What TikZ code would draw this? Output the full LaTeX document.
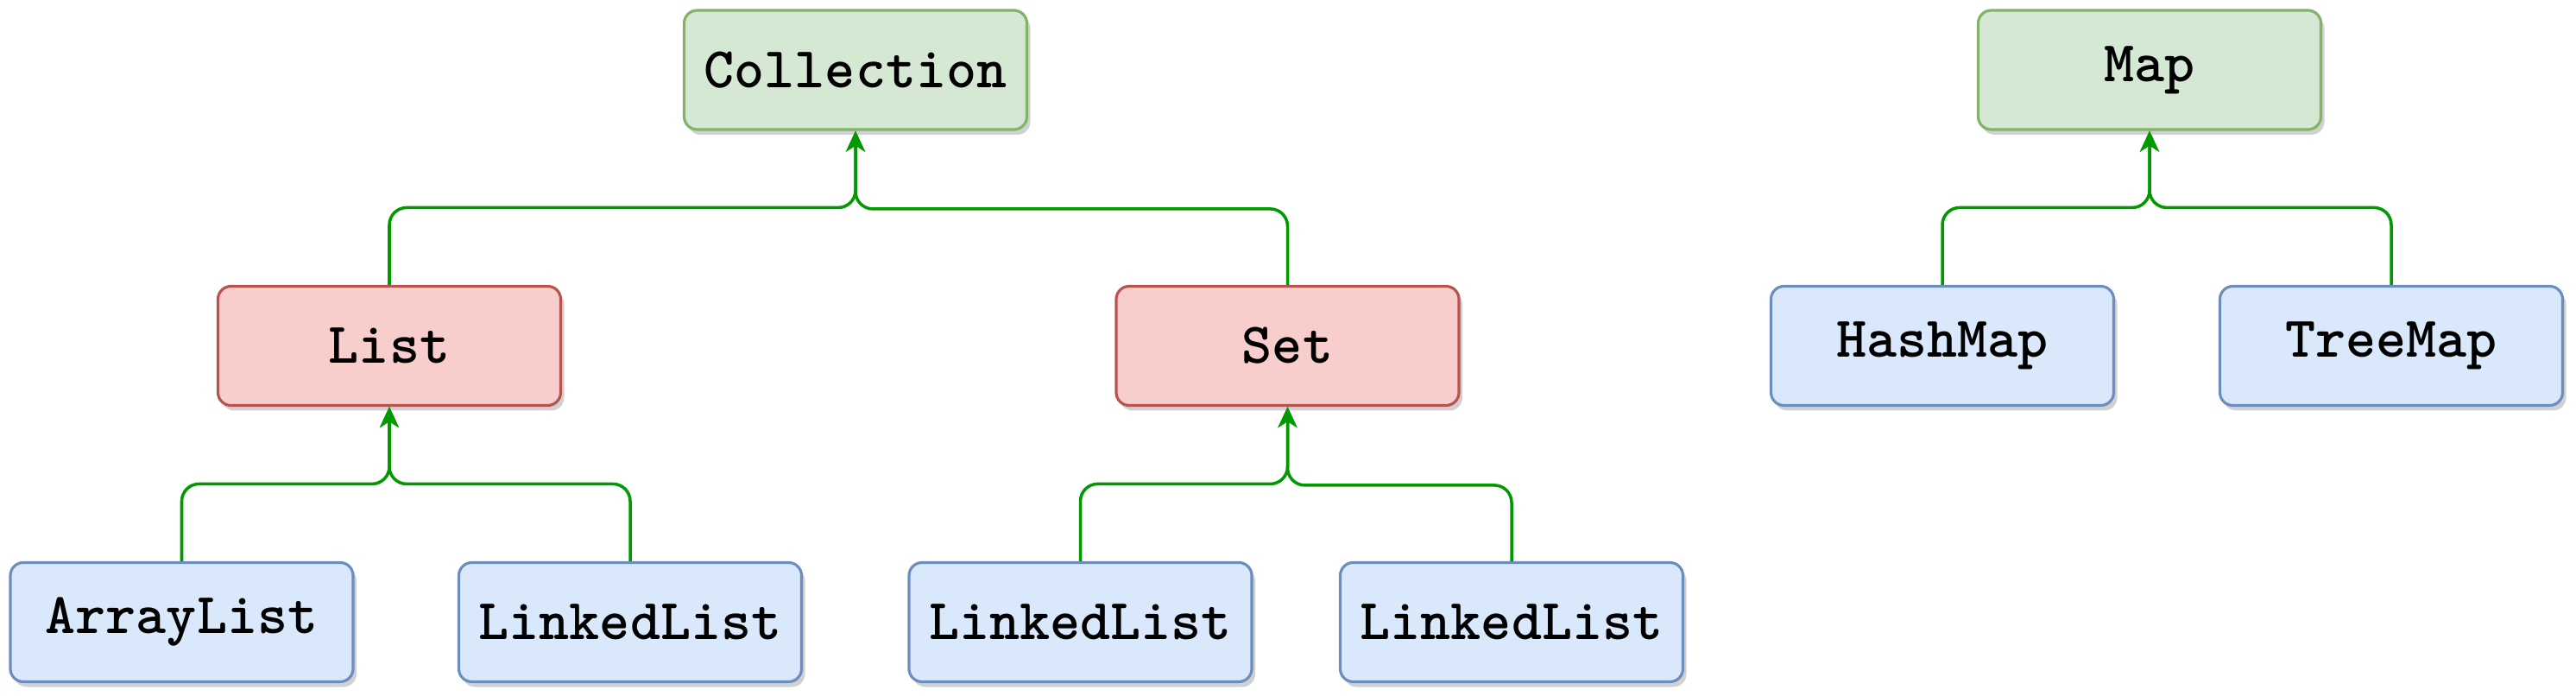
\documentclass[tikz,border=0pt]{standalone}
\usepackage{fontspec}
\usetikzlibrary{arrows.meta,shadows}
\definecolor{greenfill}{HTML}{D5E8D4}
\definecolor{greenline}{HTML}{82B366}
\definecolor{redfill}{HTML}{F8CECC}
\definecolor{redline}{HTML}{B85450}
\definecolor{bluefill}{HTML}{DAE8FC}
\definecolor{blueline}{HTML}{6C8EBF}
\definecolor{linkgreen}{HTML}{009900}
\tikzset{
  box/.style={draw, rounded corners=0.15cm, minimum width=3.97cm, minimum height=1.38cm,
    inner sep=0pt, line width=0.9pt, font=\ttfamily\bfseries\fontsize{19}{22}\selectfont,
    drop shadow={shadow xshift=0.04cm, shadow yshift=-0.06cm, fill=black, opacity=0.18}},
  top/.style={box, fill=greenfill, draw=greenline},
  mid/.style={box, fill=redfill, draw=redline},
  leaf/.style={box, fill=bluefill, draw=blueline},
  link/.style={draw, line width=1pt, color=linkgreen, rounded corners=0.2cm,
    -{Stealth[length=0.24cm, width=0.22cm, inset=0.07cm]}}
}
\begin{document}
\begin{tikzpicture}
\useasboundingbox (0,0) rectangle (29.84,-8.06);
\node[top] (1) at (9.91,-0.81) {Collection};
\node[mid] (2) at (4.51,-4.005) {List};
\node[mid] (3) at (14.915,-4.005) {Set};
\node[leaf] (4) at (2.105,-7.205) {ArrayList};
\node[leaf] (5) at (7.30,-7.205) {LinkedList};
\node[leaf] (6) at (12.515,-7.205) {LinkedList};
\node[leaf] (7) at (17.51,-7.205) {LinkedList};
\node[top] (8) at (24.90,-0.81) {Map};
\node[leaf] (9) at (22.50,-4.005) {HashMap};
\node[leaf] (10) at (27.70,-4.005) {TreeMap};
\path[link] (2.north) -- ++(0,0.895) -| (1.south);
\path[link] (3.north) -- ++(0,0.88) -| (1.south);
\path[link] (4.north) -- ++(0,0.895) -| (2.south);
\path[link] (5.north) -- ++(0,0.895) -| (2.south);
\path[link] (6.north) -- ++(0,0.895) -| (3.south);
\path[link] (7.north) -- ++(0,0.88) -| (3.south);
\path[link] (9.north) -- ++(0,0.895) -| (8.south);
\path[link] (10.north) -- ++(0,0.895) -| (8.south);
\end{tikzpicture}
\end{document}
